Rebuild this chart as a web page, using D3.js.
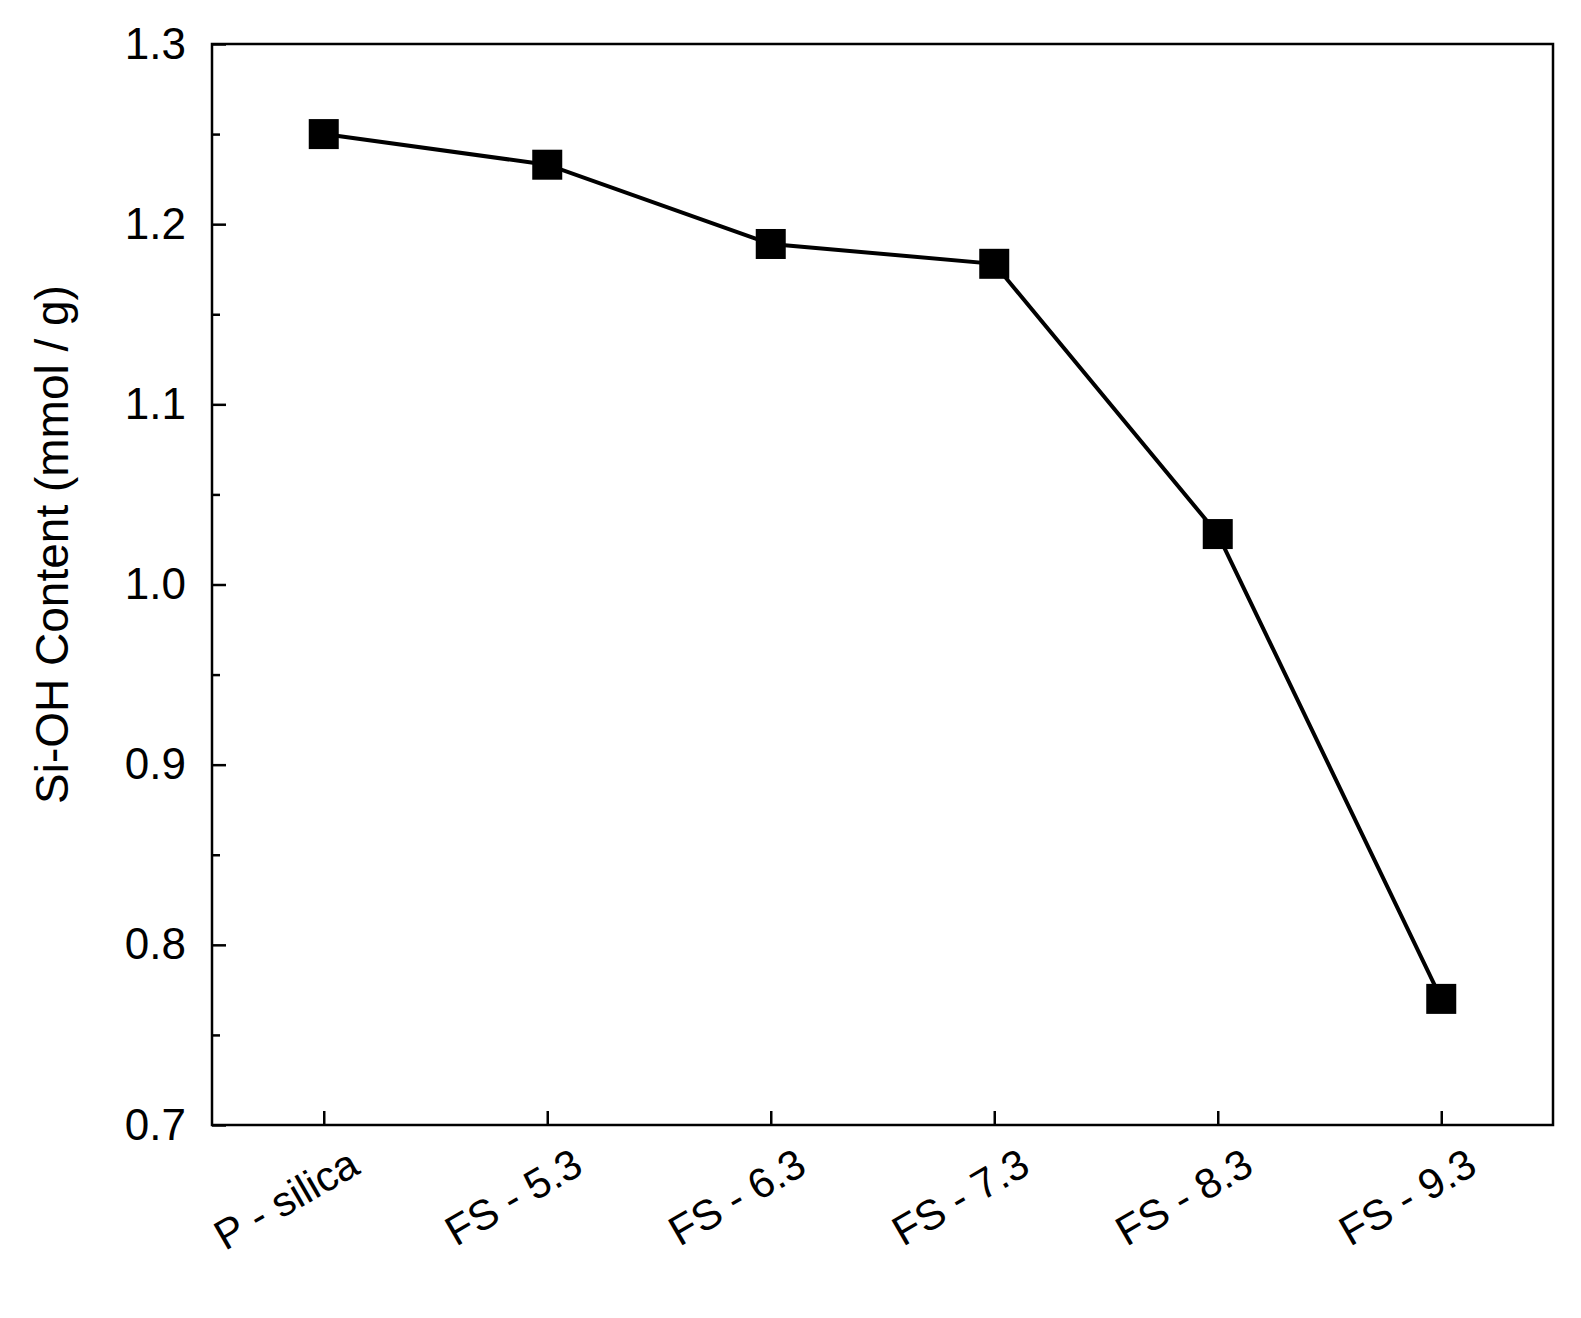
<!DOCTYPE html>
<html><head><meta charset="utf-8">
<script src="https://cdn.jsdelivr.net/npm/d3@7"></script>
<style>body{margin:0;background:#fff}svg text{font-family:"Liberation Sans",Arial,sans-serif}</style>
</head><body>
<svg id="chart" width="1581" height="1318"></svg>
<script>
// sample names and Si-OH content values
var categories = ["P - silica", "FS - 5.3", "FS - 6.3", "FS - 7.3", "FS - 8.3", "FS - 9.3"];
var siohValues = [1.250, 1.233, 1.189, 1.178, 1.028, 0.770];
var yTicks = [0.7, 0.8, 0.9, 1.0, 1.1, 1.2, 1.3];

var svg = d3.select("#chart");
var plotLeft = 212, plotRight = 1553, plotTop = 44, plotBottom = 1125;

var x = d3.scalePoint().domain(categories).range([plotLeft, plotRight]).padding(0.5);
var y = d3.scaleLinear().domain([0.7, 1.3]).range([plotBottom, plotTop]);

var data = categories.map(function(c, i){ return {c: c, v: siohValues[i]}; });

// y axis, inner ticks
var yAxis = svg.append("g").attr("transform", "translate(" + plotLeft + ",0)")
    .call(d3.axisLeft(y).tickValues(yTicks).tickFormat(d3.format(".1f")).tickSizeInner(-14).tickSizeOuter(0).tickPadding(26));
yAxis.selectAll("text").attr("font-size", 44).attr("fill", "#000");
yAxis.select(".domain").remove();
yAxis.selectAll("line").attr("stroke-width", 2.5);
svg.append("g").attr("transform", "translate(" + plotLeft + ",0)")
    .call(d3.axisLeft(y).tickValues(d3.range(0.75, 1.3, 0.1)).tickFormat("").tickSizeInner(-8).tickSizeOuter(0))
    .call(function(g){ g.select(".domain").remove(); g.selectAll("line").attr("stroke-width", 2.5); });

// x axis, inner ticks
var xAxis = svg.append("g").attr("transform", "translate(0," + plotBottom + ")")
    .call(d3.axisBottom(x).tickSizeInner(-14).tickSizeOuter(0).tickPadding(18));
xAxis.select(".domain").remove();
xAxis.selectAll("line").attr("stroke-width", 2.5);
xAxis.selectAll("text").attr("font-size", 42).attr("fill", "#000")
    .attr("text-anchor", "end").attr("dy", "0.6em")
    .attr("transform", "translate(16,10) rotate(-30)");

// frame
svg.append("rect").attr("x", plotLeft).attr("y", plotTop).attr("width", plotRight - plotLeft).attr("height", plotBottom - plotTop)
    .attr("fill", "none").attr("stroke", "#000").attr("stroke-width", 2.5);

// line and markers
svg.append("path").datum(data)
    .attr("d", d3.line().x(function(d){ return x(d.c); }).y(function(d){ return y(d.v); }))
    .attr("fill", "none").attr("stroke", "#000").attr("stroke-width", 4);
svg.selectAll("rect.m").data(data).enter().append("rect").attr("class", "m")
    .attr("x", function(d){ return x(d.c) - 15; }).attr("y", function(d){ return y(d.v) - 15; })
    .attr("width", 30).attr("height", 30).attr("fill", "#000");

// y title
svg.append("text").attr("transform", "translate(68," + ((plotTop + plotBottom) / 2 - 40) + ") rotate(-90)")
    .attr("text-anchor", "middle").attr("font-size", 46).text("Si-OH Content (mmol / g)");
</script>
</body></html>
